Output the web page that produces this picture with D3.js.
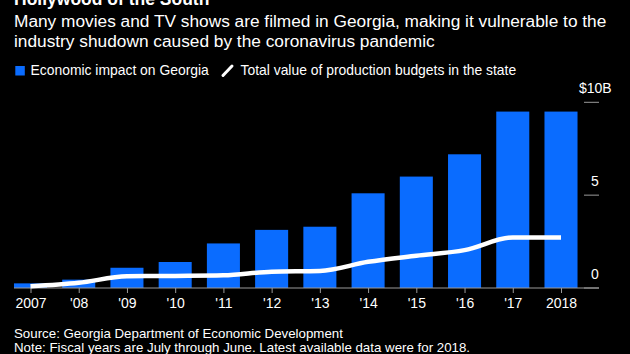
<!DOCTYPE html>
<html>
<head>
<meta charset="utf-8">
<script src="https://cdn.jsdelivr.net/npm/d3@7"></script>
<style>
  html, body { margin: 0; padding: 0; background: #000; }
  svg { display: block; font-family: "Liberation Sans", Arial, Helvetica, sans-serif; }
</style>
</head>
<body>
<svg id="chart" width="630" height="354"></svg>
<script>
// fiscal years
const years = ['2007', '2008', '2009', '2010', '2011', '2012', '2013', '2014', '2015', '2016', '2017', '2018'];
const yearLabels = ['2007', "'08", "'09", "'10", "'11", "'12", "'13", "'14", "'15", "'16", "'17", '2018'];
// billions of dollars
const impact = [0.25, 0.45, 1.09, 1.4, 2.4, 3.13, 3.3, 5.1, 6.0, 7.2, 9.5, 9.5];
const budgets = [0.09, 0.28, 0.63, 0.65, 0.68, 0.88, 0.92, 1.41, 1.74, 2.04, 2.72, 2.72];
const yTicks = [0, 5, 10];

const svg = d3.select('#chart');
const blue = '#0a6cff';

let x = d3.scalePoint()
    .domain(years)
    .range([30.5, 561]);

let barW = x.step() * 0.685;

let y = d3.scaleLinear()
    .domain([0, 10])
    .range([288, 102.3]);

// header
svg.append('text')
    .attr('x', 14).attr('y', 5)
    .attr('fill', '#fff')
    .style('font-size', '17.5px').style('font-weight', 'bold')
    .text('Hollywood of the South');

let sub = svg.append('text')
    .attr('fill', '#fff')
    .style('font-size', '17.3px');
sub.append('tspan').attr('x', 14).attr('y', 26.7)
    .text('Many movies and TV shows are filmed in Georgia, making it vulnerable to the');
sub.append('tspan').attr('x', 14).attr('y', 46.7)
    .text('industry shudown caused by the coronavirus pandemic');

// legend
let legend = svg.append('g').style('font-size', '13.9px');
legend.append('rect')
    .attr('x', 15.3).attr('y', 66).attr('width', 9.5).attr('height', 9.5)
    .attr('fill', blue);
legend.append('text')
    .attr('x', 30.5).attr('y', 75.3)
    .attr('fill', '#fff')
    .text('Economic impact on Georgia');
legend.append('line')
    .attr('x1', 223).attr('y1', 75.5).attr('x2', 232).attr('y2', 66)
    .attr('stroke', '#fff').attr('stroke-width', 3).attr('stroke-linecap', 'round');
legend.append('text')
    .attr('x', 240.5).attr('y', 75.3)
    .attr('fill', '#fff')
    .text('Total value of production budgets in the state');

// bars
svg.append('g')
    .selectAll('rect')
    .data(years)
    .join('rect')
    .attr('x', d => x(d) - barW / 2)
    .attr('width', barW)
    .attr('y', (d, i) => y(impact[i]))
    .attr('height', (d, i) => y(0) - y(impact[i]))
    .attr('fill', blue);

// y axis ticks on the right
let yAxis = svg.append('g');
yAxis.selectAll('line')
    .data(yTicks)
    .join('line')
    .attr('x1', 584).attr('x2', 599)
    .attr('y1', d => y(d)).attr('y2', d => y(d))
    .attr('stroke', '#9a9a9a').attr('stroke-width', 1);
yAxis.selectAll('text')
    .data(yTicks)
    .join('text')
    .attr('x', d => d === 10 ? 579 : 591)
    .attr('y', d => y(d) - 9.5)
    .attr('fill', '#fff')
    .style('font-size', '14px')
    .text(d => d === 10 ? '$10B' : d);

// x axis
let xAxis = svg.append('g')
    .attr('transform', 'translate(0,' + y(0) + ')')
    .call(d3.axisBottom(x).tickSize(5).tickPadding(5).tickFormat((d, i) => yearLabels[i]));
xAxis.select('.domain').remove();
xAxis.append('line')
    .attr('x1', 14).attr('x2', 599)
    .attr('stroke', '#9a9a9a').attr('stroke-width', 1);
xAxis.selectAll('.tick line').attr('stroke', '#9a9a9a');
xAxis.selectAll('.tick text')
    .attr('fill', '#fff')
    .style('font-size', '14px')
    .style('font-family', '"Liberation Sans", Arial, Helvetica, sans-serif');

// budget line
let line = d3.line()
    .x((d, i) => x(years[i]))
    .y(d => y(d))
    .curve(d3.curveMonotoneX);

svg.append('path')
    .datum(budgets)
    .attr('d', line)
    .attr('fill', 'none')
    .attr('stroke', '#fff')
    .attr('stroke-width', 4.5)
    .attr('stroke-linejoin', 'round');

// footer
svg.append('text')
    .attr('x', 14).attr('y', 338.3)
    .attr('fill', '#fff')
    .style('font-size', '13.3px')
    .text('Source: Georgia Department of Economic Development');
svg.append('text')
    .attr('x', 14).attr('y', 352)
    .attr('fill', '#fff')
    .style('font-size', '13.3px')
    .text('Note: Fiscal years are July through June. Latest available data were for 2018.');
</script>
</body>
</html>
